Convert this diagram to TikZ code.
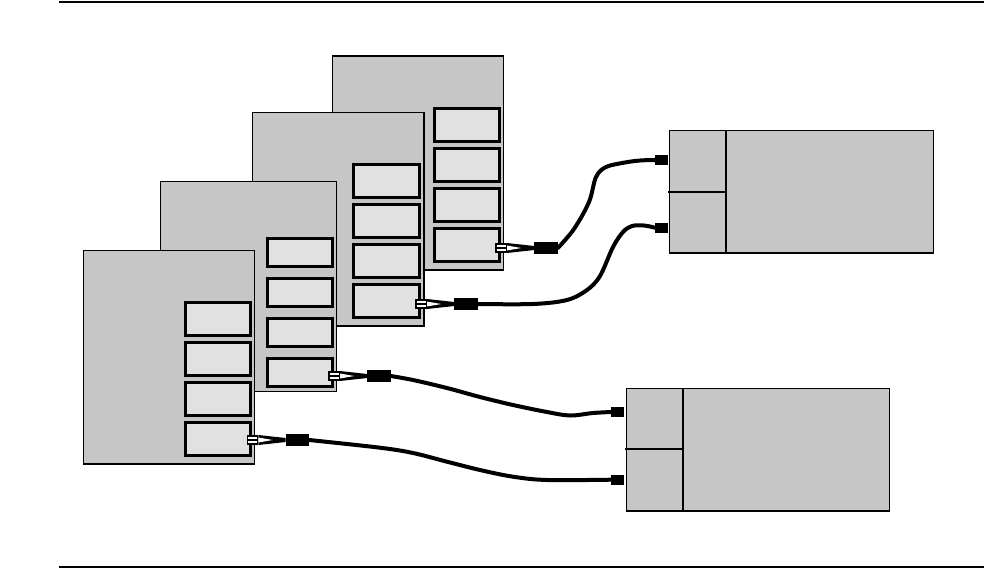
\documentclass[tikz,border=0pt]{standalone}
\begin{document}
\definecolor{chgray}{RGB}{198,198,198}
\definecolor{slotgray}{RGB}{225,225,225}
\tikzset{
  chassis/.style={draw=black, line width=1.3pt, fill=chgray, rectangle, inner sep=0pt, outer sep=0pt, anchor=north west},
  slotbox/.style={draw=black, line width=3pt, fill=slotgray, rectangle, inner sep=0pt, outer sep=0pt, anchor=north west, minimum width=65.6pt},
  devbox/.style={draw=black, line width=1.4pt, fill=chgray, rectangle, inner sep=0pt, outer sep=0pt, anchor=north west},
  divider/.style={draw=black, line width=2.2pt},
  plughalf/.style={draw=black, line width=1.2pt, fill=white, rectangle, inner sep=0pt, outer sep=0pt, minimum width=10.4pt, minimum height=4pt},
  ferrite/.style={fill=black, rectangle, inner sep=0pt, outer sep=0pt, minimum width=23.5pt, minimum height=11.6pt, anchor=west},
  portsq/.style={fill=black, rectangle, inner sep=0pt, outer sep=0pt, minimum width=13pt, minimum height=10pt},
  cable/.style={draw=black, line width=4pt, line cap=round, line join=round},
  rule/.style={draw=black, line width=2pt}
}
\newcommand\plugat[3]{%
  \fill[black] ({#2+5.6},{#3-5}) -- ({#2+33},{#3-2}) -- ({#2+33},{#3+2}) -- ({#2+5.6},{#3+5}) -- cycle;
  \fill[white] ({#2+5.6},{#3-2.5}) -- ({#2+20},{#3}) -- ({#2+5.6},{#3+2.5}) -- cycle;
  \node[plughalf, anchor=south west] (#1a) at ({#2-5.4},{#3}) {};
  \node[plughalf, anchor=north west] (#1b) at ({#2-5.4},{#3}) {};
  \node[ferrite] (#1) at ({#2+33},{#3}) {};
}
\begin{tikzpicture}[x=1pt,y=-1pt]
\useasboundingbox (0,0) rectangle (984,568);
\fill[white] (0,0) rectangle (984,568);
% rules
\coordinate (r1a) at (59,1.8); \coordinate (r1b) at (984,1.8);
\coordinate (r2a) at (59,566.5); \coordinate (r2b) at (984,566.5);
\draw[rule] (r1a) -- (r1b);
\draw[rule] (r2a) -- (r2b);
% chassis 4 (back)
\node[chassis, minimum width=171.5pt, minimum height=214pt] (c4) at (332.3,56) {};
\foreach \i/\t in {1/106.7,2/146.7,3/186.7,4/226.7}
  \node[slotbox, minimum height=33pt] (c4s\i) at (434.2,{\t+1.5}) {};
% chassis 3
\node[chassis, minimum width=171.7pt, minimum height=213.7pt] (c3) at (252.2,112.3) {};
\foreach \i/\t in {1/162.7,2/202.7,3/242.7,4/282.7}
  \node[slotbox, minimum height=33pt] (c3s\i) at (353.8,{\t+1.5}) {};
% chassis 2
\node[chassis, minimum width=176pt, minimum height=210pt] (c2) at (160.3,181.3) {};
\foreach \i/\t in {1/236.7,2/276.7,3/316.7,4/356.7}
  \node[slotbox, minimum height=28.6pt] (c2s\i) at (267.2,{\t+1.5}) {};
% chassis 1 (front)
\node[chassis, minimum width=171pt, minimum height=213.7pt] (c1) at (83.3,250.3) {};
\foreach \i/\t in {1/300.7,2/340.7,3/380.7,4/420.7}
  \node[slotbox, minimum height=33.6pt] (c1s\i) at (185.2,{\t+1.5}) {};
% plugs
\plugat{f4}{501.3}{248}
\plugat{f3}{421.3}{304}
\plugat{f2}{334.3}{376}
\plugat{f1}{252.7}{440}
% device A
\node[devbox, minimum width=264pt, minimum height=122.7pt] (bA) at (669.3,130.3) {};
\draw[divider] (725.7,130.3) -- (725.7,253);
\draw[divider] (668.3,191.7) -- (725.7,191.7);
\node[portsq] (pA1) at (661.5,160) {};
\node[portsq] (pA2) at (661.5,227.7) {};
% device B
\node[devbox, minimum width=263.2pt, minimum height=122.7pt] (bB) at (626.3,388.3) {};
\draw[divider] (683,388.3) -- (683,511);
\draw[divider] (625,449.3) -- (683,449.3);
\node[portsq] (pB1) at (617.5,412) {};
\node[portsq] (pB2) at (617.5,479.7) {};
% cables
\draw[cable] plot[smooth, tension=0.55] coordinates {(f4.east) (574,229) (589,202) (596,177) (606,167) (625,162.5) (640,160.5) (pA1.west)};
\draw[cable] plot[smooth, tension=0.55] coordinates {(f3.east) (533,304) (567,300) (587,290) (600,276) (613,247) (623,232) (632,226) (644,225.5) (pA2.west)};
\draw[cable] plot[smooth, tension=0.55] coordinates {(f2.east) (413,380) (447,388) (480,397) (513,405) (547,412) (570,415.5) (593,413) (pB1.west)};
\draw[cable] plot[smooth, tension=0.55] coordinates {(f1.east) (380,447.7) (413,453) (447,461.7) (480,470) (513,476.7) (547,480) (pB2.west)};
\end{tikzpicture}
\end{document}
